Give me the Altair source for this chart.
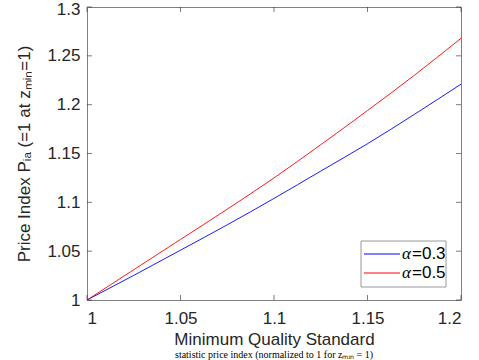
import altair as alt
import pandas as pd

# Data
z = [1.0, 1.025, 1.05, 1.075, 1.1, 1.125, 1.15, 1.175, 1.2]
p_alpha03 = [1.000, 1.0252, 1.051, 1.077, 1.104, 1.132, 1.160, 1.190, 1.221]
p_alpha05 = [1.000, 1.031, 1.062, 1.093, 1.125, 1.159, 1.194, 1.230, 1.268]
series = ["α=0.3", "α=0.5"]
colors = ["#0000ff", "#ff0000"]
x_ticks = [1.0, 1.05, 1.1, 1.15, 1.2]
y_ticks = [1.0, 1.05, 1.1, 1.15, 1.2, 1.25, 1.3]
caption = "statistic price index (normalized to 1 for zₘᵢₙ = 1)"

rows = []
for name, vals in zip(series, [p_alpha03, p_alpha05]):
    for zi, pi in zip(z, vals):
        rows.append({"z": zi, "P": pi, "series": name})
df = pd.DataFrame(rows)
xt = pd.DataFrame({"t": x_ticks})
yt = pd.DataFrame({"t": y_ticks})
leg = pd.DataFrame({"series": series,
                    "greek": [s[0] for s in series],
                    "val": [s[1:] for s in series]})

W, H = 374, 293
TICK = 5
AX = "#262626"
FONT = "Liberation Sans"

xscale = alt.Scale(domain=[1.0, 1.2], nice=False, zero=False)
yscale = alt.Scale(domain=[1.0, 1.3], nice=False, zero=False)
cscale = alt.Scale(domain=series, range=colors)

lines = alt.Chart(df).mark_line(strokeWidth=0.9, interpolate="monotone").encode(
    x=alt.X("z:Q", scale=xscale,
            axis=alt.Axis(values=x_ticks, title="Minimum Quality Standard",
                          format="~g", grid=False, ticks=False, domain=False,
                          labelPadding=10, titlePadding=5)),
    y=alt.Y("P:Q", scale=yscale,
            axis=alt.Axis(values=y_ticks, title="Price Index Pᵢₐ (=1 at zₘᵢₙ=1)",
                          format="~g", grid=False, ticks=False, domain=False,
                          labelPadding=7, titlePadding=13,
                          labelOffset={"condition": {"test": "datum.value >= 1.3",
                                                     "value": 2},
                                       "value": 0})),
    color=alt.Color("series:N", scale=cscale, legend=None),
)

bx = alt.Chart(xt).mark_rule(color=AX, strokeWidth=0.6).encode(
    x=alt.X("t:Q", scale=xscale), y=alt.value(H), y2=alt.value(H - TICK))
tx = alt.Chart(xt).mark_rule(color=AX, strokeWidth=0.6).encode(
    x=alt.X("t:Q", scale=xscale), y=alt.value(0), y2=alt.value(TICK))
ly = alt.Chart(yt).mark_rule(color=AX, strokeWidth=0.6).encode(
    y=alt.Y("t:Q", scale=yscale), x=alt.value(0), x2=alt.value(TICK))
ry = alt.Chart(yt).mark_rule(color=AX, strokeWidth=0.6).encode(
    y=alt.Y("t:Q", scale=yscale), x=alt.value(W), x2=alt.value(W - TICK))

main = alt.layer(bx, tx, ly, ry, lines)

# Legend (MATLAB-style box, lower right)
legy = alt.Y("series:N", scale=alt.Scale(type="point", domain=series,
                                         range=[247, 266], padding=0), axis=None)
box = alt.Chart(pd.DataFrame({"k": [0]})).mark_rect(
    fill="white", stroke="#808080", strokeWidth=0.8).encode(
    x=alt.value(274), x2=alt.value(359), y=alt.value(234), y2=alt.value(280))
leg_lines = alt.Chart(leg).mark_rule(strokeWidth=1).encode(
    x=alt.value(277), x2=alt.value(313), y=legy,
    color=alt.Color("series:N", scale=cscale, legend=None))
leg_greek = alt.Chart(leg).mark_text(
    align="left", baseline="middle", font="Liberation Serif", fontStyle="italic",
    fontSize=17, color="#000000").encode(x=alt.value(315), y=legy, text="greek:N")
leg_val = alt.Chart(leg).mark_text(
    align="left", baseline="middle", font=FONT, fontSize=17,
    color="#000000").encode(x=alt.value(325), y=legy, text="val:N")
cap = alt.Chart(pd.DataFrame({"c": [caption]})).mark_text(
    align="center", baseline="bottom", font="Liberation Serif", fontSize=10,
    color="#000000").encode(x=alt.value(W / 2), y=alt.value(H + 60), text="c:N")

legend = alt.layer(box, leg_lines, leg_greek, leg_val, cap)

chart = alt.layer(main, legend).resolve_scale(y="independent").properties(
    width=W, height=H,
    autosize=alt.AutoSizeParams(type="none"),
    padding={"left": 87, "top": 7, "right": 18, "bottom": 60},
).configure_view(
    stroke="#808080", strokeWidth=1
).configure_axis(
    labelFont=FONT, titleFont=FONT, labelFontSize=17, titleFontSize=17,
    labelColor=AX, titleColor=AX, titleFontWeight="normal",
)

chart.save("out.html", embed_options={"renderer": "svg", "actions": False})
